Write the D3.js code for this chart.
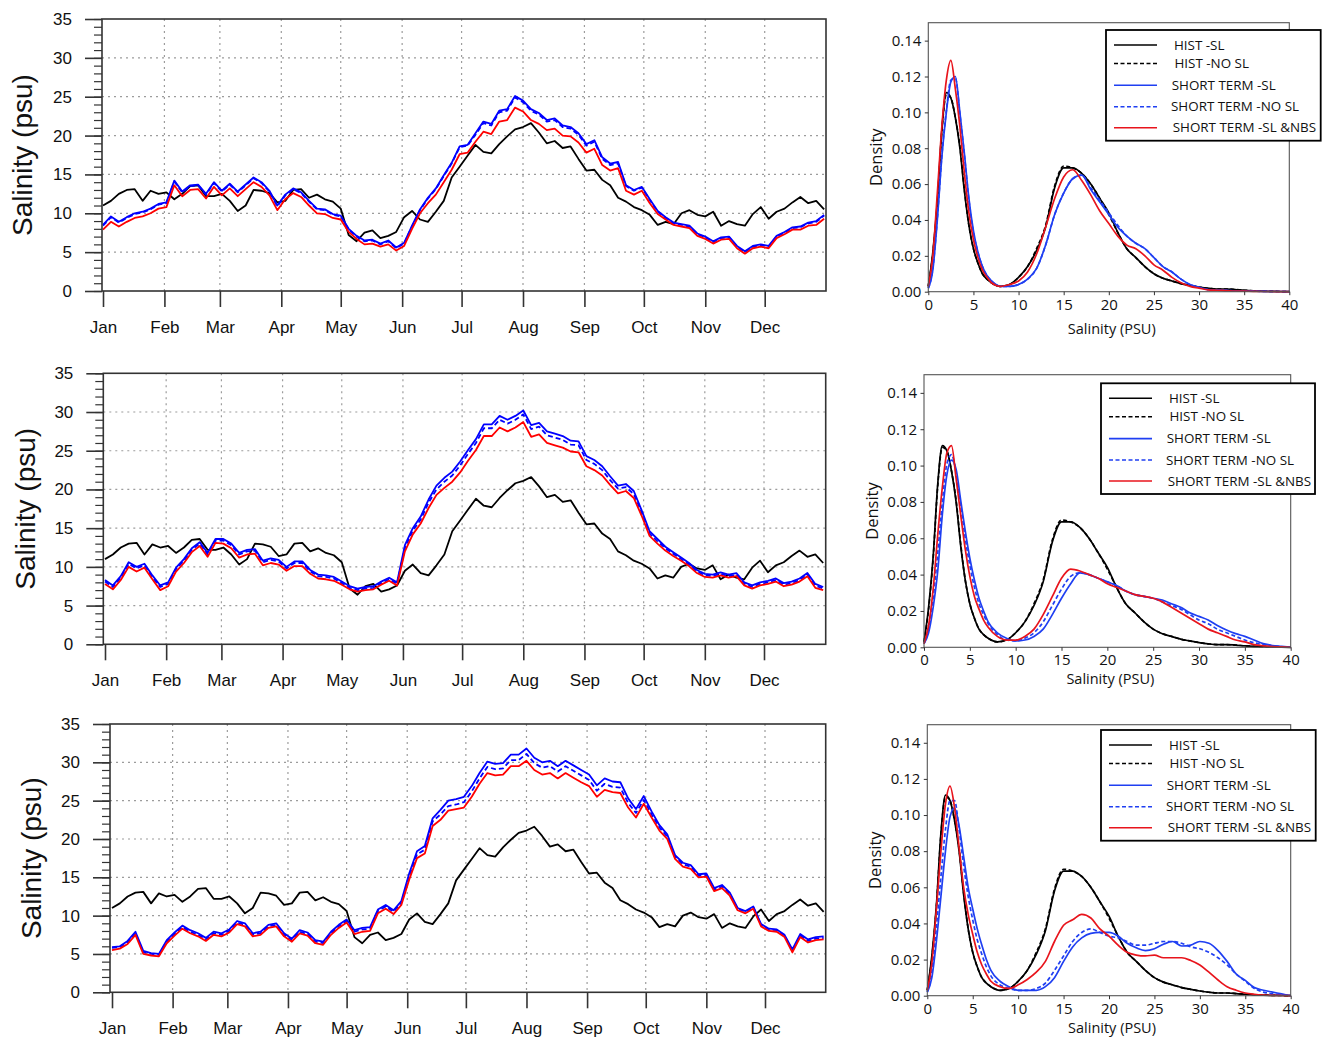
<!DOCTYPE html>
<html>
<head>
<meta charset="utf-8">
<script src="https://cdn.jsdelivr.net/npm/d3@7"></script>
<style>
  html, body { margin: 0; padding: 0; background: #fff; }
  svg { display: block; }
</style>
</head>
<body>
<svg id="fig" width="1325" height="1044"></svg>
<script>
// ======================================================
//   Salinity time series + density panels (3 rows)
// ======================================================

// ---------- time axis ----------
const monthLabels = ["Jan", "Feb", "Mar", "Apr", "May", "Jun", "Jul", "Aug", "Sep", "Oct", "Nov", "Dec"];
const monthStartDays = [0, 31, 59, 90, 120, 151, 181, 212, 243, 273, 304, 334];
const sampleDays = d3.range(0, 365, 4); // one reading every 4 days
const salinityTicks = [0, 5, 10, 15, 20, 25, 30, 35];

// ---------- daily salinity (psu), HIST -SL (same in all rows) ----------
const histSL = [
  11.0, 11.6, 12.5, 13.0, 13.1, 11.6, 12.9, 12.5,
  12.7, 11.8, 12.5, 13.5, 13.6, 12.2, 12.2, 12.5,
  11.6, 10.3, 11.0, 13.0, 12.9, 12.6, 11.4, 11.6,
  13.0, 13.1, 12.0, 12.4, 11.8, 11.5, 10.6, 7.2,
  6.4, 7.5, 7.8, 6.8, 7.1, 7.6, 9.5, 10.3,
  9.2, 8.9, 10.2, 11.6, 14.6, 16.0, 17.4, 18.8,
  17.9, 17.7, 18.9, 19.9, 20.8, 21.1, 21.6, 20.4,
  19.0, 19.3, 18.4, 18.6, 17.0, 15.5, 15.6, 14.3,
  13.6, 12.0, 11.5, 10.8, 10.4, 9.8, 8.5, 8.9,
  8.6, 10.0, 10.4, 9.8, 9.6, 10.2, 8.4, 9.0,
  8.6, 8.4, 9.9, 10.8, 9.3, 10.2, 10.6, 11.4,
  12.1, 11.3, 11.6, 10.5
];

// ---------- row 1 ----------
const stSL1 = [
  8.5, 9.6, 8.9, 9.5, 10.0, 10.2, 10.6, 11.2,
  11.4, 14.2, 12.8, 13.6, 13.7, 12.5, 14.0, 12.9,
  13.8, 12.8, 13.7, 14.6, 14.0, 12.9, 11.0, 12.4,
  13.2, 12.7, 11.6, 10.6, 10.5, 9.9, 9.7, 8.0,
  7.1, 6.5, 6.6, 6.1, 6.5, 5.6, 6.2, 8.4,
  10.5, 12.0, 13.2, 14.9, 16.5, 18.6, 18.8, 20.3,
  21.8, 21.5, 23.2, 23.4, 25.1, 24.5, 23.4, 22.9,
  22.0, 22.2, 21.3, 21.1, 20.3, 18.9, 19.4, 17.2,
  16.4, 16.6, 13.6, 13.0, 13.4, 11.8, 10.3, 9.5,
  8.8, 8.6, 8.4, 7.4, 7.0, 6.4, 6.9, 7.0,
  5.8, 5.1, 5.8, 6.0, 5.8, 7.1, 7.6, 8.2,
  8.3, 8.8, 9.0, 9.8
];
const stNoSL1 = [
  8.4, 9.5, 8.8, 9.4, 9.9, 10.1, 10.5, 11.1,
  11.3, 14.1, 12.7, 13.5, 13.6, 12.4, 13.9, 12.8,
  13.7, 12.7, 13.6, 14.5, 13.9, 12.8, 10.9, 12.3,
  13.1, 12.6, 11.5, 10.5, 10.4, 9.8, 9.6, 7.9,
  7.0, 6.4, 6.5, 6.0, 6.4, 5.5, 6.1, 8.3,
  10.4, 11.9, 13.1, 14.8, 16.4, 18.5, 18.7, 20.1,
  21.6, 21.3, 23.0, 23.2, 24.9, 24.3, 23.2, 22.7,
  21.8, 22.0, 21.1, 20.9, 20.1, 18.7, 19.2, 17.0,
  16.2, 16.4, 13.5, 12.9, 13.3, 11.7, 10.2, 9.4,
  8.7, 8.5, 8.3, 7.3, 6.9, 6.3, 6.8, 6.9,
  5.7, 5.0, 5.7, 5.9, 5.7, 7.0, 7.5, 8.1,
  8.2, 8.7, 8.9, 9.7
];
const stNBS1 = [
  7.9, 8.9, 8.3, 8.9, 9.4, 9.6, 10.0, 10.6,
  10.8, 13.6, 12.2, 13.0, 13.1, 11.9, 13.4, 12.3,
  13.2, 12.2, 13.1, 14.0, 13.4, 12.3, 10.4, 11.8,
  12.6, 12.1, 11.0, 10.0, 9.9, 9.4, 9.2, 7.6,
  6.7, 6.0, 6.1, 5.7, 6.0, 5.2, 5.8, 8.0,
  10.0, 11.3, 12.4, 14.0, 15.6, 17.6, 17.8, 19.2,
  20.5, 20.2, 21.8, 22.0, 23.6, 23.1, 22.0, 21.5,
  20.7, 20.9, 20.0, 19.9, 19.1, 17.8, 18.3, 16.2,
  15.5, 15.8, 12.9, 12.4, 12.9, 11.3, 9.9, 9.2,
  8.5, 8.3, 8.1, 7.1, 6.7, 6.1, 6.6, 6.7,
  5.5, 4.8, 5.5, 5.7, 5.5, 6.8, 7.3, 7.9,
  7.9, 8.4, 8.5, 9.3
];

// ---------- row 2 ----------
const stSL2 = [
  8.3, 7.6, 8.8, 10.6, 10.0, 10.4, 8.9, 7.6,
  8.0, 9.9, 11.0, 12.4, 13.2, 11.8, 13.6, 13.6,
  13.0, 11.8, 12.2, 12.3, 10.8, 11.1, 10.9, 10.0,
  10.7, 10.7, 9.6, 9.0, 8.9, 8.7, 8.1, 7.5,
  7.2, 7.4, 7.5, 8.1, 8.6, 8.0, 12.8, 15.0,
  16.5, 18.7, 20.5, 21.5, 22.3, 23.6, 25.1, 26.5,
  28.4, 28.4, 29.5, 29.0, 29.5, 30.2, 28.3, 28.6,
  27.5, 27.2, 26.9, 26.3, 26.2, 24.3, 23.8, 23.0,
  21.7, 20.5, 20.7, 19.8, 17.3, 14.6, 13.6, 12.6,
  11.9, 11.2, 10.5, 9.6, 9.1, 9.0, 9.3, 9.0,
  9.2, 8.0, 7.6, 8.0, 8.2, 8.5, 7.9, 8.1,
  8.5, 9.2, 7.8, 7.4
];
const stNoSL2 = [
  8.1, 7.4, 8.6, 10.4, 9.8, 10.2, 8.7, 7.4,
  7.8, 9.7, 10.8, 12.2, 13.0, 11.6, 13.4, 13.4,
  12.8, 11.6, 12.0, 12.1, 10.6, 10.9, 10.7, 9.8,
  10.5, 10.5, 9.4, 8.8, 8.7, 8.5, 7.9, 7.3,
  7.0, 7.2, 7.3, 7.9, 8.4, 7.8, 12.4, 14.7,
  16.1, 18.3, 20.0, 21.0, 21.8, 23.1, 24.6, 26.0,
  27.9, 27.9, 29.0, 28.5, 29.0, 29.7, 27.8, 28.1,
  27.0, 26.7, 26.4, 25.8, 25.7, 23.8, 23.3, 22.5,
  21.2, 20.1, 20.3, 19.4, 17.0, 14.3, 13.3, 12.4,
  11.7, 11.0, 10.3, 9.4, 8.9, 8.8, 9.1, 8.8,
  9.0, 7.8, 7.4, 7.8, 8.0, 8.3, 7.7, 7.9,
  8.3, 9.0, 7.6, 7.2
];
const stNBS2 = [
  7.8, 7.1, 8.3, 10.0, 9.4, 9.9, 8.4, 7.0,
  7.5, 9.4, 10.5, 11.9, 12.7, 11.3, 13.1, 13.0,
  12.4, 11.2, 11.6, 11.7, 10.2, 10.5, 10.3, 9.5,
  10.1, 10.1, 9.1, 8.5, 8.4, 8.2, 7.7, 7.1,
  6.8, 7.0, 7.1, 7.7, 8.2, 7.6, 12.0, 14.2,
  15.6, 17.6, 19.3, 20.2, 21.0, 22.2, 23.7, 25.1,
  26.9, 26.9, 28.0, 27.5, 28.0, 28.7, 26.8, 27.1,
  26.0, 25.7, 25.4, 24.9, 24.8, 23.0, 22.5, 21.8,
  20.6, 19.5, 19.8, 18.9, 16.6, 14.0, 13.0, 12.1,
  11.4, 10.8, 10.1, 9.2, 8.7, 8.6, 8.9, 8.6,
  8.8, 7.6, 7.2, 7.6, 7.8, 8.1, 7.5, 7.7,
  8.1, 8.8, 7.3, 7.0
];

// ---------- row 3 ----------
const stSL3 = [
  5.9, 6.0, 6.7, 7.9, 5.4, 5.1, 5.0, 6.8,
  7.8, 8.7, 8.1, 7.7, 7.1, 7.9, 7.7, 8.2,
  9.3, 9.0, 7.7, 7.9, 8.8, 9.0, 7.7, 7.0,
  8.1, 7.8, 6.8, 6.6, 7.9, 8.8, 9.5, 8.1,
  8.4, 8.5, 10.8, 11.4, 10.7, 11.9, 15.5, 18.4,
  19.1, 22.7, 23.8, 25.0, 25.2, 25.5, 26.9, 28.6,
  30.1, 29.8, 29.9, 31.0, 31.0, 31.8, 30.6, 30.0,
  30.2, 29.5, 30.2, 29.6, 29.0, 28.4, 27.0, 27.9,
  27.5, 27.4, 25.3, 23.9, 25.6, 23.6, 21.8, 20.6,
  17.9, 16.9, 16.6, 15.4, 15.5, 13.6, 14.0, 13.0,
  11.0, 10.6, 11.2, 8.9, 8.3, 8.2, 7.5, 5.6,
  7.6, 6.9, 7.2, 7.3
];
const stNoSL3 = [
  5.8, 5.9, 6.5, 7.7, 5.2, 5.0, 4.9, 6.6,
  7.6, 8.5, 7.9, 7.5, 6.9, 7.7, 7.5, 8.0,
  9.1, 8.8, 7.5, 7.7, 8.6, 8.8, 7.5, 6.8,
  7.9, 7.6, 6.6, 6.4, 7.7, 8.6, 9.3, 7.9,
  8.2, 8.3, 10.6, 11.2, 10.5, 11.7, 15.1, 18.0,
  18.6, 22.3, 23.2, 24.3, 24.5, 24.8, 26.2, 27.9,
  29.4, 29.1, 29.2, 30.3, 30.3, 31.1, 29.9, 29.3,
  29.5, 28.8, 29.5, 28.9, 28.3, 27.7, 26.3, 27.2,
  26.8, 26.7, 24.7, 23.4, 25.1, 23.2, 21.5, 20.3,
  17.7, 16.7, 16.4, 15.2, 15.3, 13.4, 13.8, 12.8,
  10.9, 10.5, 11.1, 8.8, 8.2, 8.1, 7.4, 5.4,
  7.4, 6.7, 7.0, 7.1
];
const stNBS3 = [
  5.5, 5.7, 6.3, 7.5, 5.0, 4.8, 4.7, 6.4,
  7.4, 8.3, 7.7, 7.3, 6.7, 7.5, 7.3, 7.8,
  8.9, 8.6, 7.3, 7.5, 8.4, 8.6, 7.3, 6.6,
  7.7, 7.4, 6.4, 6.2, 7.5, 8.4, 9.1, 7.6,
  7.9, 8.0, 10.3, 10.9, 10.2, 11.4, 14.7, 17.5,
  18.1, 21.7, 22.5, 23.7, 23.9, 24.1, 25.5, 27.2,
  28.6, 28.3, 28.4, 29.5, 29.5, 30.2, 29.0, 28.4,
  28.6, 27.9, 28.6, 28.0, 27.4, 26.9, 25.5, 26.4,
  26.1, 26.0, 24.1, 22.8, 24.6, 22.8, 21.1, 20.0,
  17.4, 16.4, 16.1, 15.0, 15.1, 13.2, 13.6, 12.6,
  10.7, 10.3, 10.9, 8.6, 8.0, 7.9, 7.2, 5.2,
  7.2, 6.5, 6.8, 6.9
];

// ---------- density curves ----------
const densityGrid = [0, 0.5, 1, 1.5, 2, 2.5, 3, 3.5, 4, 4.5, 5, 5.5, 6, 6.5, 7,
  8, 9, 10, 11, 12, 13, 14, 15, 16, 17, 18, 19, 20, 21, 22, 23, 24,
  25, 26, 27, 28, 29, 30, 31, 32, 33, 34, 35, 36, 37, 38, 39, 40];
const densityXTicks = [0, 5, 10, 15, 20, 25, 30, 35, 40];
const densityYTicks = [0, 0.02, 0.04, 0.06, 0.08, 0.10, 0.12, 0.14];

const densHistSL = [0.003, 0.022, 0.050, 0.090, 0.111, 0.108, 0.097, 0.080, 0.056, 0.037, 0.024, 0.016, 0.010, 0.007, 0.005,
  0.003, 0.004, 0.008, 0.014, 0.023, 0.036, 0.058, 0.069, 0.069, 0.066, 0.060, 0.052, 0.044, 0.033, 0.024, 0.019, 0.014,
  0.010, 0.0075, 0.006, 0.0045, 0.0035, 0.0026, 0.0019, 0.0015, 0.0015, 0.0012, 0.0008, 0.0005, 0.0003, 0.0002, 0.0001, 0];
const densHistNoSL = [0.003, 0.021, 0.049, 0.089, 0.110, 0.108, 0.097, 0.081, 0.057, 0.037, 0.024, 0.016, 0.010, 0.007, 0.005,
  0.003, 0.004, 0.008, 0.014, 0.024, 0.037, 0.059, 0.070, 0.069, 0.066, 0.060, 0.052, 0.043, 0.033, 0.024, 0.019, 0.014,
  0.010, 0.0075, 0.006, 0.0045, 0.0035, 0.0026, 0.0019, 0.0015, 0.0015, 0.0012, 0.0008, 0.0005, 0.0003, 0.0002, 0.0001, 0];

const densSL1 = [0.002, 0.012, 0.040, 0.075, 0.100, 0.117, 0.120, 0.100, 0.077, 0.052, 0.034, 0.022, 0.014, 0.009, 0.006,
  0.003, 0.003, 0.004, 0.007, 0.013, 0.026, 0.043, 0.055, 0.063, 0.065, 0.057, 0.050, 0.043, 0.036, 0.031, 0.027, 0.024,
  0.019, 0.014, 0.011, 0.007, 0.004, 0.0025, 0.0012, 0.0009, 0.0007, 0.0005, 0.0004, 0.0003, 0.0002, 0.0001, 0.0001, 0];
const densNoSL1 = [0.002, 0.013, 0.041, 0.076, 0.101, 0.118, 0.119, 0.099, 0.076, 0.051, 0.033, 0.022, 0.014, 0.009, 0.006,
  0.003, 0.003, 0.004, 0.007, 0.013, 0.026, 0.043, 0.055, 0.063, 0.065, 0.058, 0.051, 0.044, 0.037, 0.031, 0.027, 0.024,
  0.019, 0.014, 0.011, 0.007, 0.004, 0.0025, 0.0012, 0.0009, 0.0007, 0.0005, 0.0004, 0.0003, 0.0002, 0.0001, 0.0001, 0];
const densNBS1 = [0.003, 0.020, 0.055, 0.092, 0.118, 0.129, 0.113, 0.092, 0.066, 0.044, 0.029, 0.019, 0.012, 0.008, 0.005,
  0.003, 0.004, 0.006, 0.011, 0.021, 0.036, 0.052, 0.064, 0.068, 0.062, 0.054, 0.045, 0.038, 0.031, 0.026, 0.024, 0.020,
  0.015, 0.012, 0.008, 0.005, 0.003, 0.002, 0.001, 0.0008, 0.0006, 0.0004, 0.0003, 0.0002, 0.0001, 0.0001, 0, 0];

const densSL2 = [0.002, 0.008, 0.022, 0.042, 0.073, 0.095, 0.103, 0.098, 0.081, 0.064, 0.049, 0.037, 0.027, 0.020, 0.014,
  0.008, 0.005, 0.0035, 0.004, 0.006, 0.010, 0.018, 0.027, 0.035, 0.041, 0.040, 0.038, 0.036, 0.034, 0.031, 0.029, 0.028,
  0.027, 0.026, 0.024, 0.022, 0.019, 0.017, 0.015, 0.012, 0.0095, 0.0075, 0.006, 0.004, 0.002, 0.001, 0.0005, 0];
const densNoSL2 = [0.002, 0.010, 0.027, 0.052, 0.080, 0.101, 0.106, 0.096, 0.078, 0.060, 0.045, 0.033, 0.024, 0.018, 0.013,
  0.007, 0.004, 0.0035, 0.005, 0.008, 0.014, 0.023, 0.032, 0.039, 0.041, 0.040, 0.038, 0.036, 0.034, 0.031, 0.029, 0.028,
  0.027, 0.025, 0.023, 0.021, 0.018, 0.015, 0.013, 0.010, 0.008, 0.006, 0.004, 0.0025, 0.0015, 0.0008, 0.0003, 0];
const densNBS2 = [0.002, 0.012, 0.032, 0.062, 0.088, 0.107, 0.111, 0.093, 0.073, 0.054, 0.039, 0.028, 0.021, 0.015, 0.011,
  0.006, 0.004, 0.004, 0.006, 0.010, 0.018, 0.028, 0.038, 0.043, 0.042, 0.040, 0.038, 0.035, 0.033, 0.031, 0.029, 0.028,
  0.027, 0.025, 0.022, 0.019, 0.016, 0.013, 0.010, 0.008, 0.006, 0.004, 0.003, 0.0015, 0.0008, 0.0004, 0.0002, 0];

const densSL3 = [0.002, 0.010, 0.030, 0.055, 0.080, 0.099, 0.104, 0.094, 0.077, 0.060, 0.048, 0.037, 0.028, 0.020, 0.014,
  0.008, 0.005, 0.003, 0.003, 0.003, 0.005, 0.010, 0.019, 0.027, 0.032, 0.0345, 0.035, 0.035, 0.033, 0.029, 0.0265, 0.025,
  0.026, 0.0285, 0.030, 0.0275, 0.028, 0.030, 0.029, 0.025, 0.019, 0.012, 0.0085, 0.0045, 0.003, 0.002, 0.001, 0];
const densNoSL3 = [0.002, 0.013, 0.038, 0.066, 0.092, 0.108, 0.108, 0.092, 0.072, 0.055, 0.042, 0.031, 0.023, 0.016, 0.011,
  0.006, 0.004, 0.003, 0.003, 0.004, 0.007, 0.014, 0.022, 0.030, 0.035, 0.037, 0.035, 0.033, 0.032, 0.030, 0.028, 0.028,
  0.029, 0.030, 0.030, 0.029, 0.027, 0.026, 0.024, 0.021, 0.017, 0.012, 0.008, 0.004, 0.002, 0.001, 0.0005, 0];
const densNBS3 = [0.003, 0.018, 0.048, 0.080, 0.106, 0.116, 0.104, 0.082, 0.060, 0.045, 0.034, 0.024, 0.017, 0.012, 0.008,
  0.005, 0.004, 0.006, 0.009, 0.013, 0.019, 0.030, 0.039, 0.042, 0.045, 0.043, 0.037, 0.033, 0.028, 0.024, 0.0225, 0.022,
  0.0225, 0.021, 0.021, 0.021, 0.0195, 0.017, 0.013, 0.0087, 0.005, 0.003, 0.0015, 0.0008, 0.0004, 0.0002, 0.0001, 0];

const legendLabels = ["HIST -SL", "HIST -NO SL", "SHORT TERM -SL", "SHORT TERM -NO SL", "SHORT TERM -SL &NBS"];

(function () {
  "use strict";

  // =============================
  // 1. STYLE / LAYOUT
  // =============================
  const ncl = "'Liberation Sans', Arial, Helvetica, sans-serif";
  const mpl = "'Open Sans', 'DejaVu Sans', sans-serif";

  // line styles in legend order
  const styles = [
    { color: "#000000", dash: null },
    { color: "#000000", dash: "4,2.5" },
    { color: "#1f3ff2", dash: null },
    { color: "#1f3ff2", dash: "4,2.5" },
    { color: "#e8141c", dash: null }
  ];

  const seriesPanels = [
    { left: 102, right: 826, top: 19, bottom: 291, jan: 103, dec: 764.7, labelX: 22,
      lines: [histSL, stSL1, stNoSL1, stNBS1] },
    { left: 103.3, right: 825.7, top: 373.3, bottom: 644.3, jan: 105, dec: 764, labelX: 25,
      lines: [histSL, stSL2, stNoSL2, stNBS2] },
    { left: 110, right: 825.7, top: 724, bottom: 992.3, jan: 112, dec: 765, labelX: 31.5,
      lines: [histSL, stSL3, stNoSL3, stNBS3] }
  ];
  // style index for each time-series line (HIST -NO SL lies under HIST -SL)
  const seriesStyle = [0, 2, 3, 4];
  const tsColors = ["#000000", "#0000ff", "#0000ff", "#ff0000"];

  const densityPanels = [
    { left: 928.3, right: 1289.3, top: 22.7, bottom: 291.7, xLabelDy: 42.6,
      legend: { x: 1106, y: 30, w: 214.7, h: 110.7 },
      curves: [densHistSL, densHistNoSL, densSL1, densNoSL1, densNBS1] },
    { left: 924, right: 1290.7, top: 374.7, bottom: 647.3, xLabelDy: 37,
      legend: { x: 1101, y: 383.3, w: 214, h: 110.7 },
      curves: [densHistSL, densHistNoSL, densSL2, densNoSL2, densNBS2] },
    { left: 927.3, right: 1290.7, top: 724.7, bottom: 995.7, xLabelDy: 37.5,
      legend: { x: 1101, y: 730, w: 214.7, h: 110.7 },
      curves: [densHistSL, densHistNoSL, densSL3, densNoSL3, densNBS3] }
  ];
  const legendRowY = [15, 33.5, 55.3, 76.7, 97.7];
  const legendTextX = [68, 68.5, 65.7, 65, 66.7];

  const svg = d3.select("#fig");

  seriesPanels.forEach(drawSeriesPanel);
  densityPanels.forEach(drawDensityPanel);

  // =============================
  // 2. TIME SERIES PANEL
  // =============================
  function drawSeriesPanel(p) {
    const g = svg.append("g");
    const x = d3.scaleLinear().domain([0, 334]).range([p.jan, p.dec]);
    const y = d3.scaleLinear().domain([0, 35]).range([p.bottom, p.top]);

    // dotted grid
    g.append("g").selectAll("line")
      .data(salinityTicks.filter(v => v > 0 && v < 35))
      .join("line")
      .attr("x1", p.left).attr("x2", p.right)
      .attr("y1", d => y(d)).attr("y2", d => y(d))
      .attr("stroke", "#9c9c9c").attr("stroke-width", 1.2)
      .attr("stroke-dasharray", "2,4");

    g.append("g").selectAll("line")
      .data(monthStartDays.slice(1))
      .join("line")
      .attr("x1", d => x(d)).attr("x2", d => x(d))
      .attr("y1", p.top).attr("y2", p.bottom)
      .attr("stroke", "#9c9c9c").attr("stroke-width", 1.2)
      .attr("stroke-dasharray", "2,4");

    // lines
    const line = d3.line()
      .x((d, i) => x(sampleDays[i]))
      .y(d => y(d));

    p.lines.forEach((vals, k) => {
      const st = styles[seriesStyle[k]];
      g.append("path")
        .datum(vals)
        .attr("d", line)
        .attr("fill", "none")
        .attr("stroke", tsColors[k])
        .attr("stroke-width", 1.8)
        .attr("stroke-linejoin", "round")
        .attr("stroke-dasharray", st.dash ? "5,3" : null);
    });

    // frame
    g.append("rect")
      .attr("x", p.left).attr("y", p.top)
      .attr("width", p.right - p.left).attr("height", p.bottom - p.top)
      .attr("fill", "none").attr("stroke", "#333").attr("stroke-width", 1.6);

    // y axis: minor + major ticks
    const minor = g.append("g")
      .attr("transform", `translate(${p.left},0)`)
      .call(d3.axisLeft(y).tickValues(d3.range(0, 36)).tickSize(8).tickFormat(""));
    minor.select(".domain").remove();
    minor.selectAll("line").attr("stroke", "#333").attr("stroke-width", 1.2);

    const yAxis = g.append("g")
      .attr("transform", `translate(${p.left},0)`)
      .call(d3.axisLeft(y).tickValues(salinityTicks).tickSize(17).tickPadding(13));
    yAxis.select(".domain").remove();
    yAxis.selectAll("line").attr("stroke", "#333").attr("stroke-width", 1.6);
    yAxis.selectAll("text")
      .attr("font-family", ncl).attr("font-size", 17).attr("fill", "#111");

    // x axis
    const xAxis = g.append("g")
      .attr("transform", `translate(0,${p.bottom})`)
      .call(d3.axisBottom(x).tickValues(monthStartDays)
        .tickFormat((d, i) => monthLabels[i]).tickSize(16).tickPadding(14));
    xAxis.select(".domain").remove();
    xAxis.selectAll("line").attr("stroke", "#333").attr("stroke-width", 1.6);
    xAxis.selectAll("text")
      .attr("font-family", ncl).attr("font-size", 17).attr("fill", "#111");

    // y label
    g.append("text")
      .attr("transform", `translate(${p.labelX},${(p.top + p.bottom) / 2}) rotate(-90)`)
      .attr("text-anchor", "middle")
      .attr("dy", "0.35em")
      .attr("font-family", ncl)
      .attr("font-size", 28)
      .attr("fill", "#111")
      .text("Salinity (psu)");
  }

  // =============================
  // 3. DENSITY PANEL
  // =============================
  function drawDensityPanel(p) {
    const g = svg.append("g");
    const x = d3.scaleLinear().domain([0, 40]).range([p.left, p.right]);
    const y = d3.scaleLinear().domain([0, 0.15]).range([p.bottom, p.top]);

    const line = d3.line()
      .x((d, i) => x(densityGrid[i]))
      .y(d => y(d))
      .curve(d3.curveMonotoneX);

    p.curves.forEach((vals, k) => {
      g.append("path")
        .datum(vals)
        .attr("d", line)
        .attr("fill", "none")
        .attr("stroke", styles[k].color)
        .attr("stroke-width", 1.7)
        .attr("stroke-dasharray", styles[k].dash);
    });

    // frame
    g.append("rect")
      .attr("x", p.left).attr("y", p.top)
      .attr("width", p.right - p.left).attr("height", p.bottom - p.top)
      .attr("fill", "none").attr("stroke", "#555").attr("stroke-width", 1.1);

    const xAxis = g.append("g")
      .attr("transform", `translate(0,${p.bottom})`)
      .call(d3.axisBottom(x).tickValues(densityXTicks).tickSize(3.5).tickPadding(4));
    xAxis.select(".domain").remove();
    xAxis.selectAll("line").attr("stroke", "#333");
    xAxis.selectAll("text").attr("font-family", mpl).attr("font-size", 15).attr("fill", "#111");

    const yAxis = g.append("g")
      .attr("transform", `translate(${p.left},0)`)
      .call(d3.axisLeft(y).tickValues(densityYTicks).tickFormat(d3.format(".2f"))
        .tickSize(3.5).tickPadding(3.5));
    yAxis.select(".domain").remove();
    yAxis.selectAll("line").attr("stroke", "#333");
    yAxis.selectAll("text").attr("font-family", mpl).attr("font-size", 15).attr("fill", "#111");

    // axis labels
    g.append("text")
      .attr("x", (p.left + p.right) / 2 + 3)
      .attr("y", p.bottom + p.xLabelDy)
      .attr("text-anchor", "middle")
      .attr("font-family", mpl).attr("font-size", 14.5).attr("fill", "#111")
      .text("Salinity (PSU)");

    g.append("text")
      .attr("transform", `translate(${p.left - 52},${(p.top + p.bottom) / 2}) rotate(-90)`)
      .attr("text-anchor", "middle")
      .attr("dy", "0.35em")
      .attr("font-family", mpl).attr("font-size", 16.5).attr("fill", "#111")
      .text("Density");

    // legend
    const L = p.legend;
    const lg = g.append("g").attr("transform", `translate(${L.x},${L.y})`);
    lg.append("rect")
      .attr("width", L.w).attr("height", L.h)
      .attr("fill", "#fff").attr("stroke", "#000").attr("stroke-width", 1.8);

    legendLabels.forEach((lab, i) => {
      lg.append("line")
        .attr("x1", 8).attr("x2", 51)
        .attr("y1", legendRowY[i]).attr("y2", legendRowY[i])
        .attr("stroke", styles[i].color)
        .attr("stroke-width", 1.6)
        .attr("stroke-dasharray", styles[i].dash);
      lg.append("text")
        .attr("x", legendTextX[i]).attr("y", legendRowY[i])
        .attr("dy", "0.35em")
        .attr("font-family", mpl).attr("font-size", 13.4).attr("fill", "#111")
        .text(lab);
    });
  }
})();
</script>
</body>
</html>
